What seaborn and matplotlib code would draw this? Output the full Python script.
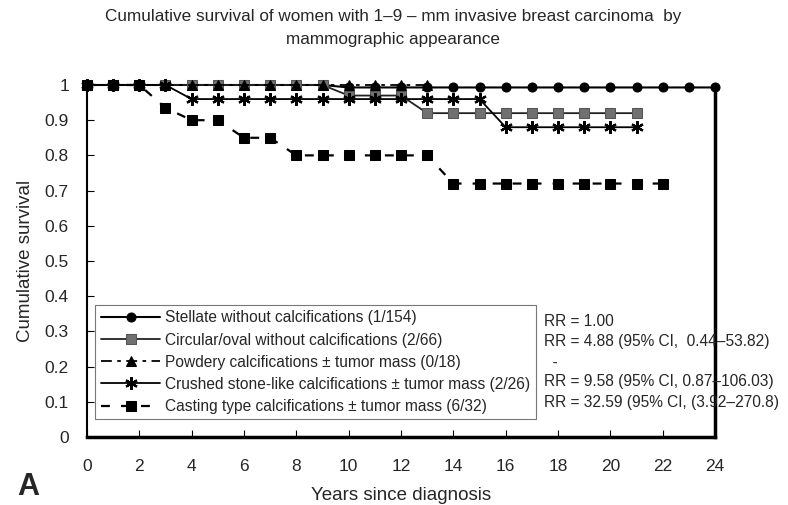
import matplotlib
matplotlib.use("Agg")
import matplotlib.pyplot as plt
import seaborn as sns
import numpy as np

sns.set_style("white")
plt.rcParams['font.family'] = ['Liberation Sans', 'DejaVu Sans']

# Data
stellate_years = list(range(0, 25))
stellate_vals = [1.0]*10 + [0.993]*15

circular_years = list(range(0, 22))
circular_vals = [1.0]*10 + [0.97]*3 + [0.92]*9

powdery_years = list(range(0, 14))
powdery_vals = [1.0]*14

crushed_years = list(range(0, 22))
crushed_vals = [1.0]*4 + [0.96]*12 + [0.88]*6

casting_years = list(range(0, 23))
casting_vals = [1.0, 1.0, 1.0, 0.935, 0.90, 0.90, 0.85, 0.85,
                0.80, 0.80, 0.80, 0.80, 0.80, 0.80,
                0.72, 0.72, 0.72, 0.72, 0.72, 0.72, 0.72, 0.72, 0.72]

labels = ["Stellate without calcifications (1/154)",
          "Circular/oval without calcifications (2/66)",
          "Powdery calcifications \u00b1 tumor mass (0/18)",
          "Crushed stone-like calcifications \u00b1 tumor mass (2/26)",
          "Casting type calcifications \u00b1 tumor mass (6/32)"]

rr_texts = ["RR = 1.00",
            "RR = 4.88 (95% CI,  0.44\u201353.82)",
            "  -",
            "RR = 9.58 (95% CI, 0.87\u2013106.03)",
            "RR = 32.59 (95% CI, (3.92\u2013270.8)"]
rr_y = [0.327, 0.270, 0.213, 0.159, 0.099]

x_ticks = list(range(0, 25, 2))
y_ticks = [round(v * 0.1, 1) for v in range(0, 11)]
y_tick_labels = ["0"] + ["%.1f" % v for v in y_ticks[1:-1]] + ["1"]

fig = plt.figure(figsize=(7.88, 5.05), dpi=100)
ax = fig.add_axes([0.1104, 0.1347, 0.797, 0.697])

styles = [
    dict(x=stellate_years, y=stellate_vals, marker='o', color='black', mfc='black', mec='black',
         ms=6.5, linestyle='-', lw=1.5),
    dict(x=circular_years, y=circular_vals, marker='s', color='#222222', mfc='#707070', mec='#555555',
         ms=6.5, linestyle='-', lw=1.3),
    dict(x=powdery_years, y=powdery_vals, marker='^', color='black', mfc='black', mec='black',
         ms=6.5, linestyle=(0, (6, 3, 2, 3)), lw=1.3),
    dict(x=crushed_years, y=crushed_vals, marker=(6, 2, 0), color='black', mfc='black', mec='black',
         ms=9, mew=1.6, linestyle='-', lw=1.3),
    dict(x=casting_years, y=casting_vals, marker='s', color='black', mfc='black', mec='black',
         ms=7.5, linestyle=(0, (4, 5)), lw=1.6),
]
for st, lab in zip(styles, labels):
    xs = st.pop('x'); ys = st.pop('y')
    sns.lineplot(x=xs, y=ys, ax=ax, label=lab, clip_on=False, zorder=3, **st)

ax.set_xlim(0, 24)
ax.set_ylim(0, 1)
ax.set_xticks(x_ticks)
ax.set_yticks(y_ticks)
ax.set_yticklabels(y_tick_labels)
ax.tick_params(axis='y', direction='in', length=5, width=0.8, labelsize=12.5, color='black', left=True, pad=13)
ax.tick_params(axis='x', direction='in', length=5, width=0.8, labelsize=12.5, color='black', bottom=True, pad=16)

for s in ['left', 'bottom', 'right']:
    ax.spines[s].set_visible(True)
    ax.spines[s].set_color('black')
ax.spines['left'].set_linewidth(1.5)
ax.spines['bottom'].set_linewidth(2.5)
ax.spines['right'].set_linewidth(2.5)
ax.spines['top'].set_visible(False)

ax.set_xlabel("Years since diagnosis", fontsize=13.5, labelpad=9)
ax.set_ylabel("Cumulative survival", fontsize=13.5, labelpad=8)

fig.text(0.4987, 0.967, "Cumulative survival of women with 1\u20139 \u2013 mm invasive breast carcinoma  by",
         ha='center', va='center', fontsize=12.3)
fig.text(0.4987, 0.922, "mammographic appearance", ha='center', va='center', fontsize=12.3)

fig.text(0.022, 0.02, "A", fontsize=22, fontweight='bold', ha='left', va='baseline')

for t, yy in zip(rr_texts, rr_y):
    ax.text(17.45, yy, t, fontsize=11.2, ha='left', va='center', clip_on=False, zorder=6)

leg = ax.legend(loc='upper left', bbox_to_anchor=(0.013, 0.375), fontsize=11.2,
                frameon=True, fancybox=False, edgecolor='#555555', handlelength=3.85,
                labelspacing=0.46, borderpad=0.35, handletextpad=0.3, borderaxespad=0)
leg.get_frame().set_linewidth(0.8)

fig.savefig("out.png", dpi=100)
